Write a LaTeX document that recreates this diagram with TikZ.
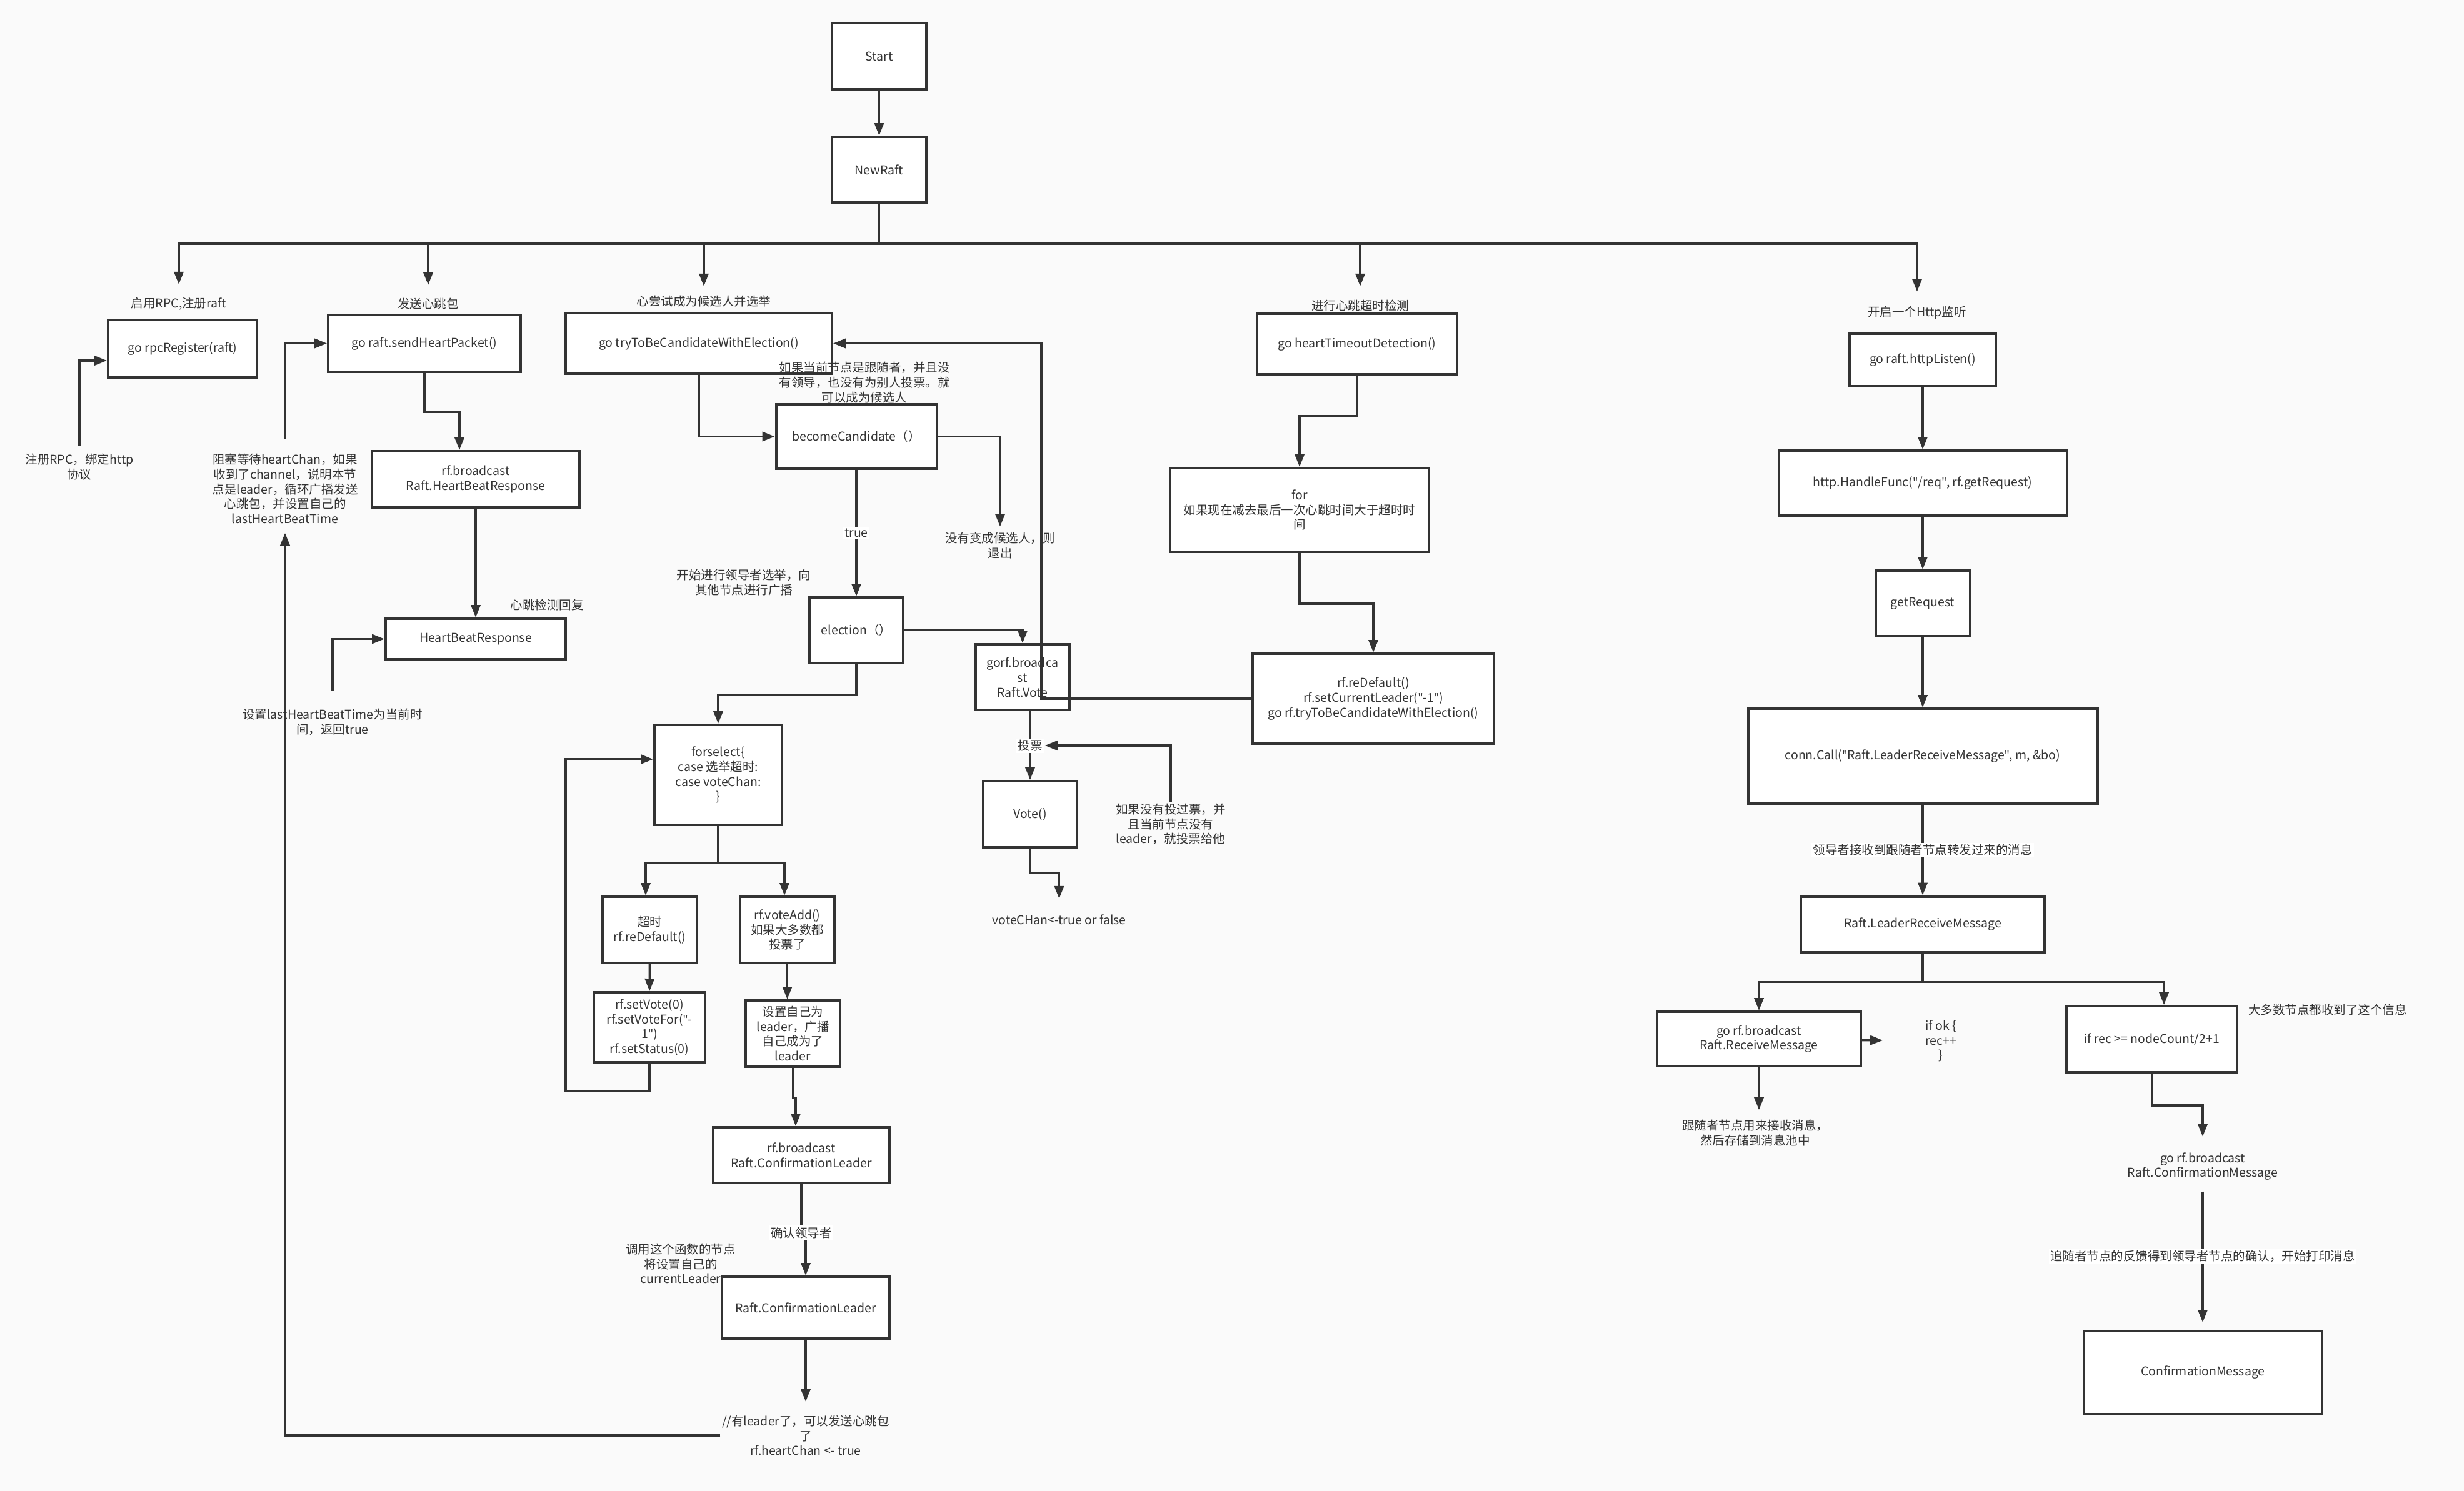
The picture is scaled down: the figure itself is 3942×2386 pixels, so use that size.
\documentclass[tikz,border=0pt]{standalone}
\usepackage{fontspec}
\setmainfont{Noto Sans CJK SC}
\newfontfamily\quotefont{Noto Sans}
\newcommand{\straightq}{{\quotefont"}}
\usetikzlibrary{arrows.meta}
\definecolor{linec}{HTML}{333333}
\definecolor{bgc}{HTML}{FAFAFA}
\tikzset{
  box/.style={draw=linec,line width=1.6pt,fill=white,align=center,inner sep=2pt},
  wh/.style 2 args={minimum width=#1*0.4pt,minimum height=#2*0.4pt},
  note/.style={align=center,inner sep=1pt},
  tag/.style={note,fill=white},
  link/.style={draw=linec,line width=1.4pt},
  arr/.style={link,-{Triangle[length=8pt,width=6pt]}},
}

\begin{document}
\begin{tikzpicture}[x=0.4pt,y=-0.4pt,every node/.style={font=\fontsize{7.8}{9.5}\selectfont,text=linec}]
\useasboundingbox (0,0) rectangle (3942,2386);
\fill[bgc] (0,0) rectangle (3942,2386);

% main trunk
\node[box,wh={151}{106}] (start) at (1406.5,90) {Start};
\node[box,wh={151}{105}] (newraft) at (1406.5,271.5) {NewRaft};
\coordinate (bus) at (1406.5,390);

\node[note] (lblrpc) at (286,486) {启用RPC,注册raft};
\node[note] (lblheart) at (685,486) {发送心跳包};
\node[note] (lbltry) at (1126,482) {心尝试成为候选人并选举};
\node[note] (lbltimeout) at (2176,489) {进行心跳超时检测};
\node[note] (lblhttp) at (3067,501) {开启一个Http监听};

% rpc + heartbeat
\node[box,wh={238}{92}] (rpcreg) at (292,558) {go rpcRegister(raft)};
\node[box,wh={308}{91}] (sendhp) at (679,549.5) {go raft.sendHeartPacket()};
\node[box,wh={332}{90}] (hbbcast) at (761,767) {rf.broadcast\\Raft.HeartBeatResponse};
\node[box,wh={288}{65}] (hbresp) at (761,1022.5) {HeartBeatResponse};
\node[note] (crpc) at (127,747) {注册RPC，绑定http\\协议};
\node[note] (cblock) at (456,782) {阻塞等待heartChan，如果\\收到了channel，说明本节\\点是leader，循环广播发送\\心跳包，并设置自己的\\lastHeartBeatTime};
\node[note] (clast) at (532,1155) {设置lastHeartBeatTime为当前时\\间，返回true};
\node[note] (lblreply) at (875,968) {心跳检测回复};

% election
\node[box,wh={426}{97}] (trybe) at (1118,549.5) {go tryToBeCandidateWithElection()};
\node[box,wh={257}{103}] (becomecand) at (1370,698.5) {becomeCandidate（）};
\node[box,wh={150}{105}] (election) at (1370,1008.5) {election（）};
\node[box,wh={150}{105}] (gorf) at (1636,1083.5) {gorf.broadca\\st\\Raft.Vote};
\node[box,wh={150}{106}] (vote) at (1648,1303) {Vote()};
\node[note] (cfollow) at (1383,612) {如果当前节点是跟随者，并且没\\有领导，也没有为别人投票。就\\可以成为候选人};
\node[note] (cexit) at (1600,873) {没有变成候选人，则\\退出};
\node[note] (celect) at (1190,932) {开始进行领导者选举，向\\其他节点进行广播};
\node[note] (cnovote) at (1873,1319) {如果没有投过票，并\\且当前节点没有\\leader，就投票给他};
\node[note] (cvchan) at (1694.5,1472) {voteCHan<-true or false};

\node[box,wh={204}{160}] (forselect) at (1149,1240) {forselect\{\\case 选举超时:\\case voteChan:\\\}};
\node[box,wh={151}{106}] (timeoutbox) at (1039.5,1488) {超时\\rf.reDefault()};
\node[box,wh={178}{112}] (setvote) at (1039,1644) {rf.setVote(0)\\rf.setVoteFor(\straightq-\\1\straightq)\\rf.setStatus(0)};
\node[box,wh={151}{106}] (voteadd) at (1259.5,1488) {rf.voteAdd()\\如果大多数都\\投票了};
\node[box,wh={151}{106}] (setleader) at (1268.5,1654) {设置自己为\\leader，广播\\自己成为了\\leader};
\node[box,wh={282}{89}] (clbcast) at (1282,1848.5) {rf.broadcast\\Raft.ConfirmationLeader};
\node[box,wh={268}{99}] (confleader) at (1289,2092.5) {Raft.ConfirmationLeader};
\node[note] (ccur) at (1089,2022) {调用这个函数的节点\\将设置自己的\\currentLeader};
\node[note] (chas) at (1289,2297) {//有leader了，可以发送心跳包\\了\\rf.heartChan <- true};

% heartbeat timeout
\node[box,wh={320}{97}] (hbtimeout) at (2171,550.5) {go heartTimeoutDetection()};
\node[box,wh={414}{134}] (forbox) at (2079,816) {for\\如果现在减去最后一次心跳时间大于超时时\\间};
\node[box,wh={386}{144}] (redefault) at (2197,1118) {rf.reDefault()\\rf.setCurrentLeader(\straightq-1\straightq)\\go rf.tryToBeCandidateWithElection()};

% http
\node[box,wh={234}{84}] (httplisten) at (3076,576) {go raft.httpListen()};
\node[box,wh={461}{104}] (handlefunc) at (3076,773) {http.HandleFunc(\straightq/req\straightq, rf.getRequest)};
\node[box,wh={151}{105}] (getreq) at (3076,965.5) {getRequest};
\node[box,wh={559}{152}] (conncall) at (3076,1210) {conn.Call(\straightq Raft.LeaderReceiveMessage\straightq, m, \&bo)};
\node[box,wh={390}{89}] (leaderrecv) at (3076,1479) {Raft.LeaderReceiveMessage};
\node[box,wh={326}{87}] (recvmsg) at (2814,1662.5) {go rf.broadcast\\Raft.ReceiveMessage};
\node[box,wh={273}{106}] (ifrec) at (3442.5,1663) {if rec >= nodeCount/2+1};
\node[box,wh={381}{133}] (confmsg) at (3524.5,2196.5) {ConfirmationMessage};
\node[note] (cifok) at (3105,1666) {if ok \{\\rec++\\\}};
\node[note] (cstore) at (2808,1813) {跟随者节点用来接收消息，\\然后存储到消息池中};
\node[note] (cmajor) at (3724,1616) {大多数节点都收到了这个信息};
\node[note] (cbconf) at (3524,1866.5) {go rf.broadcast\\Raft.ConfirmationMessage};

% connectors
\draw[arr] (start) -- (newraft);
\draw[link] (newraft) -- (bus);
\foreach \t/\s in {lblrpc/7.2pt,lblheart/7.2pt,lbltry/4.8pt,lbltimeout/7.6pt,lblhttp/8.4pt}
  \draw[arr,shorten >=\s] (bus) -| (\t);

\draw[arr,shorten <=4pt] (crpc) |- ([yshift=-7.6pt]rpcreg.west);
\draw[arr,shorten <=8.4pt] (cblock) |- (sendhp);
\draw[arr] (sendhp.south) -- ++(0,62) -| ([xshift=-10.4pt]hbbcast.north);
\draw[arr] (hbbcast) -- (hbresp);
\draw[arr,shorten <=10pt] (clast) |- (hbresp);
\draw[arr,shorten >=4.8pt] (chas.west) -| (cblock.south);

\draw[arr] (trybe) |- (becomecand);
\draw[arr,shorten >=2.6pt] (becomecand) -| (cexit);
\draw[arr] (becomecand) -- node[tag] (lbltrue) {true} (election);
\draw[arr] (election) -| (gorf);
\draw[arr] (election.south) -- ++(0,49) -| (forselect.north);
\draw[arr] (gorf.south -| vote.north) -- node[tag] (lblvote) {投票} (vote.north);
\draw[arr] (cnovote) |- (lblvote);
\draw[arr,shorten >=9.2pt] (vote.south) -- ++(0,39) -| (cvchan);

\draw[link] (forselect.south) -- ++(0,59) coordinate (fsplit);
\draw[arr] (fsplit) -| ([xshift=-2.6pt]timeoutbox.north);
\draw[arr] (fsplit) -| ([xshift=-1.8pt]voteadd.north);
\draw[arr] (timeoutbox) -- (setvote);
\draw[arr] (setvote.south) -- ++(0,44) -- ++(-134,0) |- ([yshift=10pt]forselect.west);
\draw[arr] (voteadd.south) -- (voteadd.south |- setleader.north);
\draw[arr] (setleader.south) -- ++(0,48) -| ([xshift=-3.6pt]clbcast.north);
\draw[arr] (clbcast.south) -- ++(0,78) node[tag] (lblconf) {确认领导者} -| (confleader.north);
\draw[arr,shorten >=7.6pt] (confleader) -- (chas);

\draw[arr] (hbtimeout.south) -- ++(0,65) -| (forbox.north);
\draw[arr] (forbox.south) -- ++(0,81) -| (redefault.north);
\draw[arr] (redefault.west) -- ++(-336,0) |- (trybe.east);

\draw[arr] (httplisten) -- (handlefunc);
\draw[arr] (handlefunc) -- (getreq);
\draw[arr] (getreq) -- (conncall);
\draw[arr] (conncall) -- node[tag] {领导者接收到跟随者节点转发过来的消息} (leaderrecv);
\draw[link] (leaderrecv.south) -- ++(0,46) coordinate (lsplit);
\draw[arr] (lsplit) -| (recvmsg.north);
\draw[arr] (lsplit) -| ([xshift=7.8pt]ifrec.north);
\draw[arr,shorten >=26pt] (recvmsg) -- (cifok);
\draw[arr,shorten >=5.2pt] (recvmsg) -- (recvmsg.south |- cstore.north);
\draw[arr,shorten >=9pt] (ifrec.south) -- ++(0,51) -| (cbconf.north);
\draw[arr,shorten <=6pt,shorten >=4.8pt] (cbconf) -- node[tag] {追随者节点的反馈得到领导者节点的确认，开始打印消息} (cbconf.south |- confmsg.north);
\end{tikzpicture}
\end{document}
